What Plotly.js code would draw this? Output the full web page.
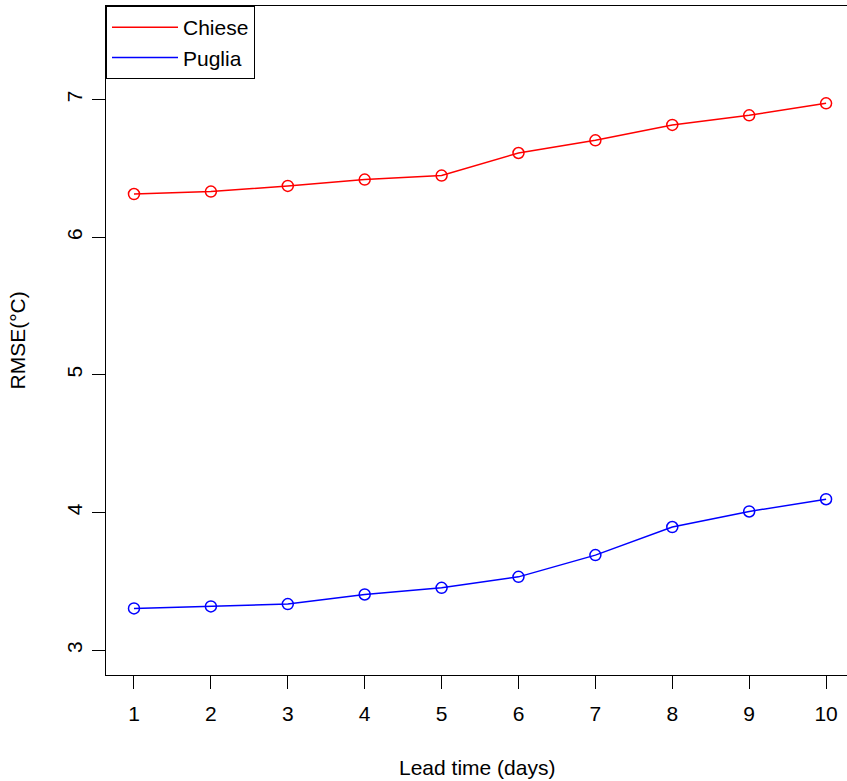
<!DOCTYPE html>
<html>
<head>
<meta charset="utf-8">
<script src="https://cdn.plot.ly/plotly-3.0.1.min.js"></script>
<style>html,body{margin:0;padding:0;background:#fff;}#chart{width:847px;height:781px;}</style>
</head>
<body>
<div id="chart"></div>
<script>
const leadTime = [1, 2, 3, 4, 5, 6, 7, 8, 9, 10];
const chiese = [6.314, 6.332, 6.373, 6.419, 6.448, 6.612, 6.704, 6.816, 6.886, 6.973];
const puglia = [3.304, 3.318, 3.335, 3.405, 3.453, 3.533, 3.691, 3.895, 4.008, 4.097];
const seriesNames = ['Chiese', 'Puglia'];
const seriesColors = ['#ff0000', '#0000ff'];
const yTicks = [3, 4, 5, 6, 7];

const FONT = 'Liberation Sans, Arial, Helvetica, sans-serif';

function lineTrace(y, i) {
  return {
    x: leadTime, y: y, type: 'scatter', mode: 'lines+markers',
    name: seriesNames[i], showlegend: false,
    line: {color: seriesColors[i], width: 1.5},
    marker: {symbol: 'circle-open', size: 11, color: seriesColors[i], line: {width: 1.5, color: seriesColors[i]}}
  };
}
function legendTrace(i) {
  return {
    x: [null], y: [null], type: 'scatter', mode: 'lines',
    name: seriesNames[i], showlegend: true,
    line: {color: seriesColors[i], width: 1.5}
  };
}

const data = [lineTrace(chiese, 0), lineTrace(puglia, 1), legendTrace(0), legendTrace(1)];

const layout = {
  width: 847, height: 781,
  margin: {l: 106, r: 0, t: 6, b: 106},
  paper_bgcolor: '#fff', plot_bgcolor: '#fff',
  font: {family: FONT, size: 21, color: '#000'},
  showlegend: true,
  legend: {
    x: 0, y: 1, xanchor: 'left', yanchor: 'top',
    bgcolor: '#fff', bordercolor: '#000', borderwidth: 1,
    font: {family: FONT, size: 21, color: '#000'},
    itemwidth: 66,
    tracegroupgap: 0
  },
  xaxis: {
    range: [0.636, 10.272],
    tickmode: 'array', tickvals: leadTime, ticktext: leadTime.map(String),
    ticks: 'outside', ticklen: 13, tickwidth: 1, tickcolor: '#000',
    ticklabelstandoff: 7,
    showline: true, linecolor: '#000', linewidth: 1, mirror: true,
    showgrid: false, zeroline: false,
    tickfont: {family: FONT, size: 21, color: '#000'}
  },
  yaxis: {
    range: [2.82, 7.68],
    tickmode: 'array', tickvals: yTicks, ticktext: yTicks.map(String),
    ticks: 'outside', ticklen: 13, tickwidth: 1, tickcolor: '#000',
    tickangle: -90, ticklabelstandoff: 2,
    showline: true, linecolor: '#000', linewidth: 1,
    showgrid: false, zeroline: false,
    tickfont: {family: FONT, size: 21, color: '#000'}
  },
  annotations: [
    {text: 'Lead time (days)', xref: 'paper', yref: 'paper', x: 0.5, y: 0, yshift: -92,
     xanchor: 'center', yanchor: 'middle', showarrow: false, font: {family: FONT, size: 21, color: '#000'}},
    {text: 'RMSE(°C)', xref: 'paper', yref: 'paper', x: 0, y: 0.5, xshift: -89,
     xanchor: 'center', yanchor: 'middle', textangle: -90, showarrow: false, font: {family: FONT, size: 21, color: '#000'}}
  ]
};

Plotly.newPlot('chart', data, layout, {displayModeBar: false, staticPlot: true});
</script>
</body>
</html>
